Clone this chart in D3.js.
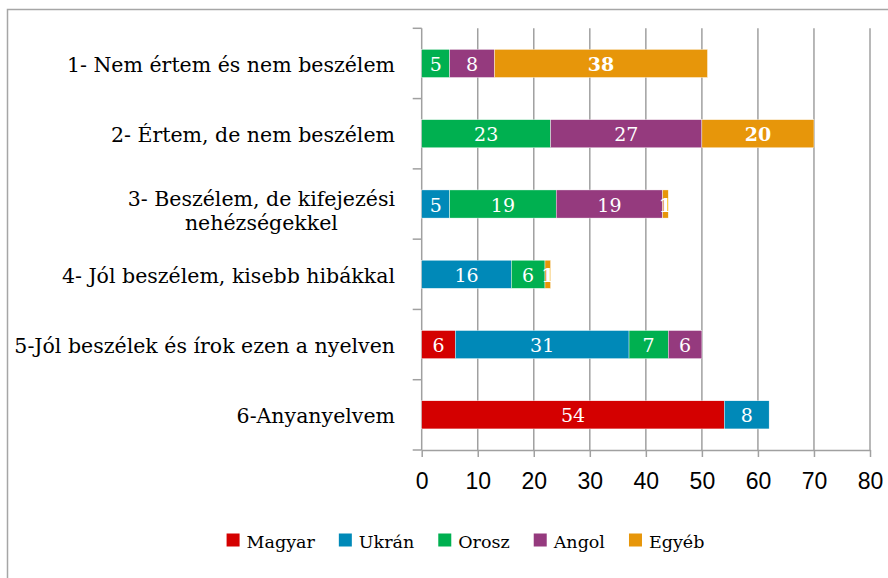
<!DOCTYPE html>
<html>
<head>
<meta charset="utf-8">
<script src="https://cdn.jsdelivr.net/npm/d3@7"></script>
<style>
  body { margin: 0; background: #fff; }
  svg { display: block; }
</style>
</head>
<body>
<script>
// chart data
var categories = [
  "1- Nem értem és nem beszélem",
  "2- Értem, de nem beszélem",
  "3- Beszélem, de kifejezési|nehézségekkel",
  "4- Jól beszélem, kisebb hibákkal",
  "5-Jól beszélek és írok ezen a nyelven",
  "6-Anyanyelvem"
];
var seriesNames = ["Magyar", "Ukrán", "Orosz", "Angol", "Egyéb"];
var magyar = [0, 0, 0, 0, 6, 54];
var ukran  = [0, 0, 5, 16, 31, 8];
var orosz  = [5, 23, 19, 6, 7, 0];
var angol  = [8, 27, 19, 0, 6, 0];
var egyeb  = [38, 20, 1, 1, 0, 0];
var xTicks = [0, 10, 20, 30, 40, 50, 60, 70, 80];
var colors = ["#d40000", "#0089b8", "#00b050", "#953a7e", "#e7960a"];

var w = 888, h = 578;
var serif = "'DejaVu Serif', Georgia, serif";

var svg = d3.select("body").append("svg").attr("width", w).attr("height", h);

// outer frame (right and bottom edges run off the picture)
svg.append("rect")
  .attr("x", 7.5).attr("y", 9.5)
  .attr("width", 900).attr("height", 600)
  .attr("fill", "#fff")
  .attr("stroke", "#a6a6a6").attr("stroke-width", 1.5);

var rows = categories.map(function (c, i) {
  return { cat: c, Magyar: magyar[i], "Ukrán": ukran[i], Orosz: orosz[i], Angol: angol[i], "Egyéb": egyeb[i] };
});

var x = d3.scaleLinear().domain([0, 80]).range([421.7, 870]);
var y = d3.scaleBand().domain(categories).range([28.3, 450]).paddingInner(0.6).paddingOuter(0.3);
var yb = d3.scaleBand().domain(categories).range([28.3, 450]);

// grid lines
svg.append("g").selectAll("line")
  .data(xTicks.slice(1))
  .enter().append("line")
    .attr("x1", function (d) { return x(d); })
    .attr("x2", function (d) { return x(d); })
    .attr("y1", 28.3).attr("y2", 450)
    .attr("stroke", "#a0a0a0").attr("stroke-width", 1.5);

// bottom axis
var xAxis = svg.append("g")
  .attr("transform", "translate(0,450)")
  .call(d3.axisBottom(x).tickValues(xTicks).tickSize(7).tickPadding(16).tickSizeOuter(0));
xAxis.select(".domain").attr("stroke", "#a0a0a0").attr("stroke-width", 1.5);
xAxis.selectAll(".tick line").attr("stroke", "#a0a0a0").attr("stroke-width", 1.5);
xAxis.selectAll("text")
  .attr("fill", "#000")
  .style("font-family", "'Liberation Sans', Arial, sans-serif")
  .style("font-size", "23px");

// left axis line with ticks between bands
svg.append("line")
  .attr("x1", x(0)).attr("x2", x(0)).attr("y1", 28.3).attr("y2", 450)
  .attr("stroke", "#a0a0a0").attr("stroke-width", 1.5);
svg.append("g").selectAll("line")
  .data(d3.range(categories.length + 1))
  .enter().append("line")
    .attr("x1", x(0) - 9).attr("x2", x(0))
    .attr("y1", function (i) { return 28.3 + i * yb.bandwidth(); })
    .attr("y2", function (i) { return 28.3 + i * yb.bandwidth(); })
    .attr("stroke", "#a0a0a0").attr("stroke-width", 1.5);

// stacked bars
var stacked = d3.stack().keys(seriesNames)(rows);

var layers = svg.append("g").selectAll("g")
  .data(stacked)
  .enter().append("g")
    .attr("fill", function (d, i) { return colors[i]; });

layers.selectAll("rect")
  .data(function (d) { return d.filter(function (p) { return p[1] - p[0] > 0; }); })
  .enter().append("rect")
    .attr("x", function (d) { return x(d[0]); })
    .attr("width", function (d) { return x(d[1]) - x(d[0]); })
    .attr("y", function (d) { return y(d.data.cat); })
    .attr("height", y.bandwidth())
    .attr("stroke", "#fff").attr("stroke-width", 0.4);

layers.selectAll("text")
  .data(function (d) {
    var k = d.key;
    return d.filter(function (p) { return p[1] - p[0] > 0; }).map(function (p) { p.key = k; return p; });
  })
  .enter().append("text")
    .attr("x", function (d) { return (x(d[0]) + x(d[1])) / 2; })
    .attr("y", function (d) { return y(d.data.cat) + y.bandwidth() / 2 + 7.5; })
    .attr("text-anchor", "middle")
    .attr("fill", "#fff")
    .style("font-family", serif)
    .style("font-size", "19px")
    .style("font-weight", function (d) { return d.key === "Egyéb" ? "bold" : "normal"; })
    .text(function (d) { return d[1] - d[0]; });

// category labels
var catLabels = svg.append("g").selectAll("text")
  .data(categories)
  .enter().append("text")
    .attr("fill", "#000")
    .style("font-family", serif)
    .style("font-size", "20.5px");

catLabels.each(function (c) {
  var t = d3.select(this);
  var parts = c.split("|");
  var cy = yb(c) + yb.bandwidth() / 2;
  if (parts.length === 1) {
    t.attr("x", 395).attr("y", cy + 8.5).attr("text-anchor", "end").text(c);
  } else {
    t.attr("text-anchor", "middle");
    var first = t.append("tspan").attr("y", cy + 2).text(parts[0]);
    var wd = first.node().getComputedTextLength();
    var mid = 395 - wd / 2;
    first.attr("x", mid);
    t.append("tspan").attr("x", mid).attr("y", cy + 26).text(parts[1]);
  }
});

// legend
var legend = svg.append("g");
var lx = 0;
seriesNames.forEach(function (s, i) {
  var g = legend.append("g").attr("transform", "translate(" + lx + ",0)");
  g.append("rect").attr("x", 0).attr("y", 533.5).attr("width", 13).attr("height", 13).attr("fill", colors[i]);
  var t = g.append("text")
    .attr("x", 20).attr("y", 548)
    .attr("fill", "#000")
    .style("font-family", serif)
    .style("font-size", "17.5px")
    .text(s);
  lx += 20 + t.node().getComputedTextLength() + 24;
});
lx -= 24;
legend.attr("transform", "translate(" + (465.5 - lx / 2) + ",0)");
</script>
</body>
</html>
